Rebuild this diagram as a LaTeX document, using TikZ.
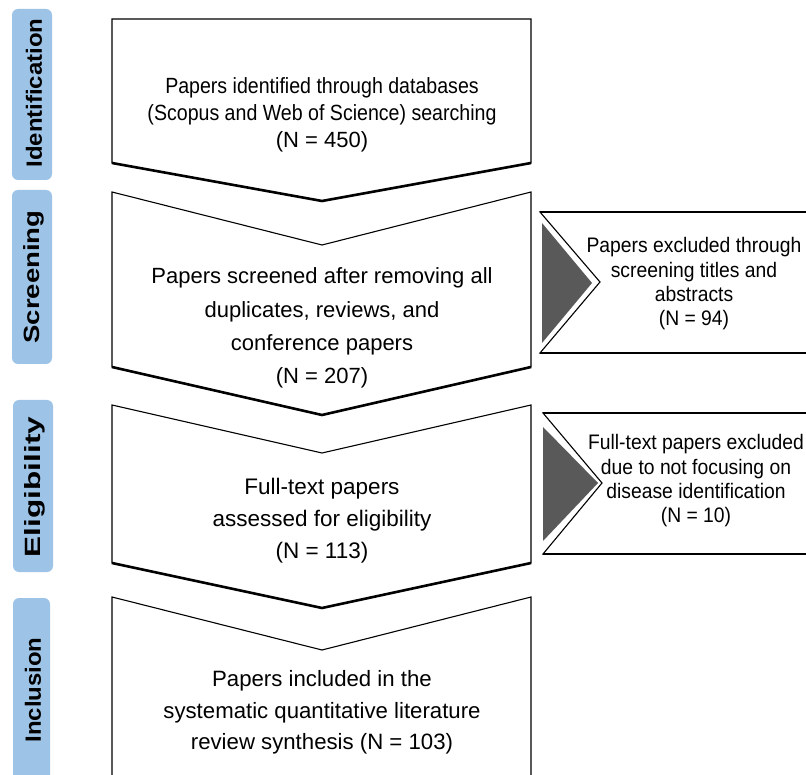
\documentclass[tikz,border=0pt]{standalone}
\usepackage{graphicx}
\usepackage{fontspec}
\setmainfont{Liberation Sans}
\newfontfamily\condensedfont[FakeStretch=0.92]{Liberation Sans}
\newfontfamily\tightfont[FakeStretch=0.89]{Liberation Sans}
\definecolor{phaseblue}{RGB}{157,195,230}
\definecolor{arrowgray}{RGB}{89,89,89}
\begin{document}
\begin{tikzpicture}[x=1pt,y=-1pt,
  phase/.style={fill=phaseblue, rounded corners=6pt},
  box/.style={draw=black, line width=1.1pt, fill=white, line join=miter},
  heavy/.style={draw=black, line width=2.6pt, line join=miter},
  sideedge/.style={draw=black, line width=2pt},
  arrowtri/.style={fill=arrowgray},
  phaselabel/.style={rotate=90, inner sep=0pt},
  maintext/.style={align=center, inner sep=0pt},
  sidetext/.style={align=center, inner sep=0pt, font=\condensedfont\fontsize{21}{24.3}\selectfont},
]
\useasboundingbox (0,0) rectangle (806,775);
\clip (0,0) rectangle (806,775);

% phase bars
\fill[phase] (12,9) rectangle (52,180);
\fill[phase] (12,190) rectangle (52,364);
\fill[phase] (13,400) rectangle (53,572);
\fill[phase] (13,598) rectangle (50,790);
\node[phaselabel] (lid) at (34,93) {\resizebox{149pt}{16pt}{\bfseries Identification}};
\node[phaselabel] (lsc) at (34,277) {\resizebox{133pt}{16pt}{\bfseries Screening}};
\node[phaselabel] (lel) at (35,487) {\resizebox{140pt}{16pt}{\bfseries Eligibility}};
\node[phaselabel] (lin) at (33,690) {\resizebox{105pt}{16pt}{\bfseries Inclusion}};

% main chevron boxes
\draw[box] (112,19) -- (531,19) -- (531,163) -- (322,201) -- (112,163) -- cycle;
\draw[heavy] (112,163) -- (322,201) -- (531,163);

\draw[box] (112,192) -- (322,245) -- (531,192) -- (531,367) -- (322,415) -- (112,367) -- cycle;
\draw[heavy] (112,367) -- (322,415) -- (531,367);

\draw[box] (112,405) -- (322,453) -- (531,405) -- (531,563) -- (322,608) -- (112,563) -- cycle;
\draw[heavy] (112,563) -- (322,608) -- (531,563);

\draw[box] (112,597) -- (322,650) -- (531,597) -- (531,790) -- (112,790) -- cycle;

% side boxes
\draw[box] (540,212) -- (815,212) -- (815,353) -- (540,353) -- (600,282) -- cycle;
\draw[sideedge] (540,212) -- (815,212);
\draw[sideedge] (540,353) -- (815,353);
\fill[arrowtri] (542,223) -- (592,283) -- (542,343) -- cycle;

\draw[box] (543,413) -- (815,413) -- (815,554) -- (543,554) -- (602,483) -- cycle;
\draw[sideedge] (543,413) -- (815,413);
\draw[sideedge] (543,554) -- (815,554);
\fill[arrowtri] (543,427) -- (598,483) -- (543,541) -- cycle;

% texts
\node[maintext, font=\tightfont\fontsize{22}{27}\selectfont] (t1) at (322,115)
  {Papers identified through databases\\(Scopus and Web of Science) searching\\{\normalfont (N = 450)}};
\node[maintext, font=\fontsize{22}{33.3}\selectfont] (t2) at (322,328)
  {Papers screened after removing all\\duplicates, reviews, and\\conference papers\\(N = 207)};
\node[maintext, font=\fontsize{22.5}{32}\selectfont] (t3) at (322,521)
  {Full-text papers\\assessed for eligibility\\(N = 113)};
\node[maintext, font=\fontsize{22.2}{31.5}\selectfont] (t4) at (322,712.5)
  {Papers included in the\\systematic quantitative literature\\review synthesis (N = 103)};
\node[sidetext] (s1) at (694,284)
  {Papers excluded through\\screening titles and\\abstracts\\(N = 94)};
\node[sidetext] (s2) at (696,481)
  {Full-text papers excluded\\due to not focusing on\\disease identification\\(N = 10)};
\end{tikzpicture}
\end{document}
